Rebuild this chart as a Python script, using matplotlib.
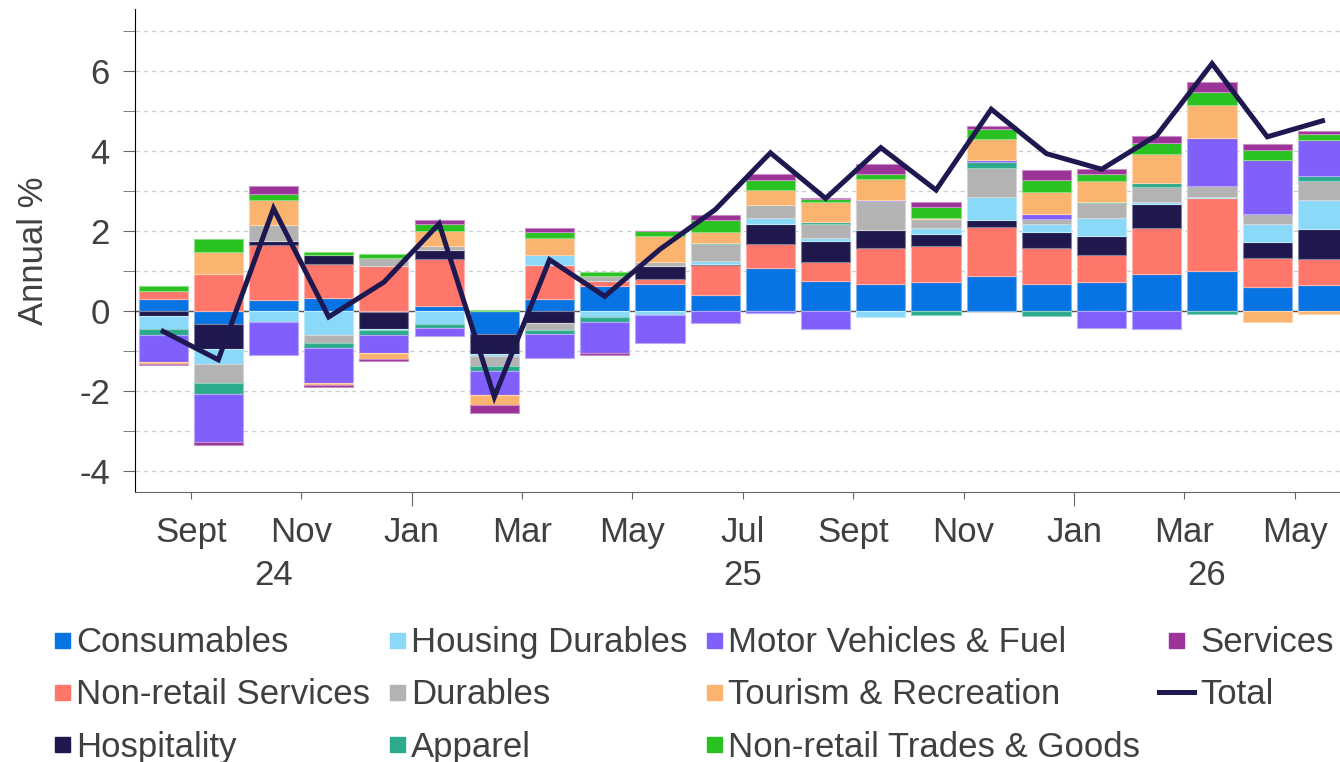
import numpy as np
import matplotlib
matplotlib.use("Agg")
import matplotlib.pyplot as plt
from matplotlib.patches import Rectangle, Patch
from matplotlib.lines import Line2D
from matplotlib.legend_handler import HandlerPatch
import matplotlib.colors as mcolors

plt.rcParams["font.family"] = ["Liberation Sans", "DejaVu Sans"]
plt.rcParams["axes.unicode_minus"] = False

# data: monthly contributions, Aug 2024 .. May 2026
months = ["Aug24", "Sep24", "Oct24", "Nov24", "Dec24", "Jan25", "Feb25", "Mar25",
          "Apr25", "May25", "Jun25", "Jul25", "Aug25", "Sep25", "Oct25", "Nov25",
          "Dec25", "Jan26", "Feb26", "Mar26", "Apr26", "May26"]

consumables = [0.31, -0.32, 0.275, 0.33, -0.02, 0.125, -0.56, 0.32, 0.63, 0.68, 0.42,
               1.08, 0.76, 0.68, 0.725, 0.88, 0.69, 0.725, 0.94, 1.02, 0.61, 0.65]
nonretail_services = [0.2, 0.94, 1.375, 0.85, 1.125, 1.195, 0.0, 0.85, 0.13, 0.12, 0.73,
                      0.61, 0.465, 0.895, 0.915, 1.23, 0.88, 0.685, 1.15, 1.8, 0.73, 0.67]
hospitality = [-0.125, -0.61, 0.1, 0.24, -0.41, 0.205, -0.5, -0.29, 0.0, 0.325, 0.03,
               0.485, 0.535, 0.45, 0.3, 0.165, 0.405, 0.47, 0.59, 0.0, 0.40, 0.74]
housing_durables = [-0.32, -0.38, -0.27, -0.59, -0.04, -0.31, -0.06, 0.25, -0.15, -0.08, 0.075,
                    0.145, 0.06, -0.14, 0.15, 0.575, 0.215, 0.46, 0.045, 0.04, 0.435, 0.71]
durables = [0.0, -0.47, 0.4, -0.2, 0.215, 0.105, -0.25, -0.185, 0.115, 0.115, 0.425,
            0.33, 0.355, 0.725, 0.21, 0.74, 0.11, 0.36, 0.375, 0.28, 0.245, 0.49]
apparel = [-0.14, -0.28, 0.0, -0.12, -0.11, -0.11, -0.13, -0.085, -0.12, 0.0, 0.025,
           0.0, 0.05, 0.0, -0.1, 0.135, -0.12, 0.025, 0.11, -0.075, 0.0, 0.115]
motor_vehicles = [-0.69, -1.21, -0.83, -0.88, -0.45, -0.2, -0.6, -0.6, -0.78, -0.7, -0.29,
                  -0.04, -0.44, 0.03, 0.0, 0.065, 0.14, -0.41, -0.43, 1.19, 1.355, 0.9]
tourism = [-0.04, 0.54, 0.64, -0.04, -0.17, 0.37, -0.25, 0.4, 0.0, 0.635, 0.28,
           0.375, 0.495, 0.53, 0.04, 0.51, 0.54, 0.525, 0.715, 0.82, -0.27, -0.06]
nonretail_trades = [0.13, 0.32, 0.15, 0.05, 0.1, 0.175, 0.025, 0.17, 0.105, 0.135, 0.295,
                    0.265, 0.08, 0.13, 0.27, 0.26, 0.295, 0.19, 0.285, 0.33, 0.25, 0.165]
services = [-0.02, -0.08, 0.2, -0.06, -0.03, 0.115, -0.18, 0.085, -0.04, 0.0, 0.125,
            0.15, 0.03, 0.23, 0.115, 0.07, 0.25, 0.12, 0.17, 0.25, 0.15, 0.06]
total = [-0.5, -1.21, 2.57, -0.14, 0.73, 2.19, -2.14, 1.29, 0.375, 1.55, 2.54,
         3.96, 2.82, 4.09, 3.03, 5.05, 3.94, 3.55, 4.4, 6.19, 4.36, 4.76]

tick_idx = [1, 3, 5, 7, 9, 11, 13, 15, 17, 19, 21]
tick_labels = ["Sept", "Nov", "Jan", "Mar", "May", "Jul", "Sept", "Nov", "Jan", "Mar", "May"]
years = ["24", "25", "26"]

series = [
    ("Consumables", consumables, "#0874E3"),
    ("Non-retail Services", nonretail_services, "#FF766A"),
    ("Hospitality", hospitality, "#1E184C"),
    ("Housing Durables", housing_durables, "#8AD9F8"),
    ("Durables", durables, "#B3B3B3"),
    ("Apparel", apparel, "#2CAA8C"),
    ("Motor Vehicles & Fuel", motor_vehicles, "#805FFB"),
    ("Tourism & Recreation", tourism, "#FBB46F"),
    ("Non-retail Trades & Goods", nonretail_trades, "#2AC220"),
    ("Services", services, "#9B3399"),
]

txt = "#404040"
fs = 25

fig = plt.figure(figsize=(13.4, 7.62), dpi=100)
ax = fig.add_axes([0.1007, 0.354, 0.899, 0.634])

x = np.arange(len(months))
pos_bottom = np.zeros(len(x))
neg_bottom = np.zeros(len(x))
for name, vals, col in series:
    v = np.array(vals)
    bottom = np.where(v >= 0, pos_bottom, neg_bottom)
    light = mcolors.to_rgb(col)
    light = tuple(0.55 * c + 0.45 for c in light)
    ax.bar(x, v, bottom=bottom, width=0.89, color=col, edgecolor=light,
           linewidth=0.8, zorder=3)
    pos_bottom += np.where(v >= 0, v, 0)
    neg_bottom += np.where(v < 0, v, 0)

ax.plot(x, total, color="#1E1850", lw=3.6, zorder=5, solid_joinstyle="miter")
ax.axhline(0, color="#555555", lw=1, zorder=2)

ax.set_xlim(-0.51, 21.31)
ax.set_ylim(-4.52, 7.55)

# grid
ax.set_yticks(np.arange(-4, 7, 2))
ax.set_yticks(np.arange(-3, 8, 2), minor=True)
for yv in range(-4, 8):
    ax.axhline(yv, color="#c5cfd4", lw=1, ls=(0, (3, 3)), zorder=1)

ax.set_xticks(np.array(tick_idx) - 0.5)
ax.set_xticklabels(tick_labels)
ax.tick_params(axis="x", length=5, color="#666666", pad=12, labelsize=fs, labelcolor=txt)
for t, lab in zip(ax.xaxis.get_major_ticks(), tick_labels):
    if lab == "Jan":
        t.tick1line.set_markersize(10)
ax.tick_params(axis="y", which="both", length=9, color="#666666", pad=9,
               labelsize=fs, labelcolor=txt)

for s in ["top", "right"]:
    ax.spines[s].set_visible(False)
ax.spines["left"].set_color("black")
ax.spines["bottom"].set_color("#666666")

# year labels centred on the visible part of each year
lo, hi = ax.get_xlim()
spans = [(lo, 4.5), (4.5, 16.5), (16.5, hi)]
for yr, (a, b) in zip(years, spans):
    ax.text((a + b) / 2, -0.172, yr, transform=ax.get_xaxis_transform(),
            ha="center", va="center", fontsize=fs, color=txt)

ax.set_ylabel("Annual %", fontsize=fs, color=txt, va="center")
ax.yaxis.set_label_coords(-0.084, 0.5)


def sq_right(legend, orig_handle, xdescent, ydescent, width, height, fontsize):
    s = 0.43 * fontsize
    return Rectangle((width - s - xdescent, -ydescent + (height - s) / 2), s, s)


def sq_center(legend, orig_handle, xdescent, ydescent, width, height, fontsize):
    s = 0.43 * fontsize
    return Rectangle(((width - s) / 2 - xdescent, -ydescent + (height - s) / 2), s, s)


handles = []
labels = []
hmap = {}
for name, vals, col in series:
    h = Patch(color=col)
    handles.append(h)
    # a little extra room after the third column, as in the original
    labels.append(name + "  " if name == "Non-retail Trades & Goods" else name)
    hmap[h] = HandlerPatch(patch_func=sq_center if name == "Services" else sq_right)
lt = Line2D([], [], color="#1E1850", lw=3.6)
handles.append(lt)
labels.append("Total")

fig.legend(handles, labels, handler_map=hmap, ncol=4, loc="upper left",
           bbox_to_anchor=(0.026, 0.178), frameon=False, fontsize=fs,
           labelcolor=txt, handlelength=1.0, handletextpad=0.18,
           columnspacing=0.0, labelspacing=0.55, borderpad=0, borderaxespad=0)

fig.savefig("out.png", dpi=100)
